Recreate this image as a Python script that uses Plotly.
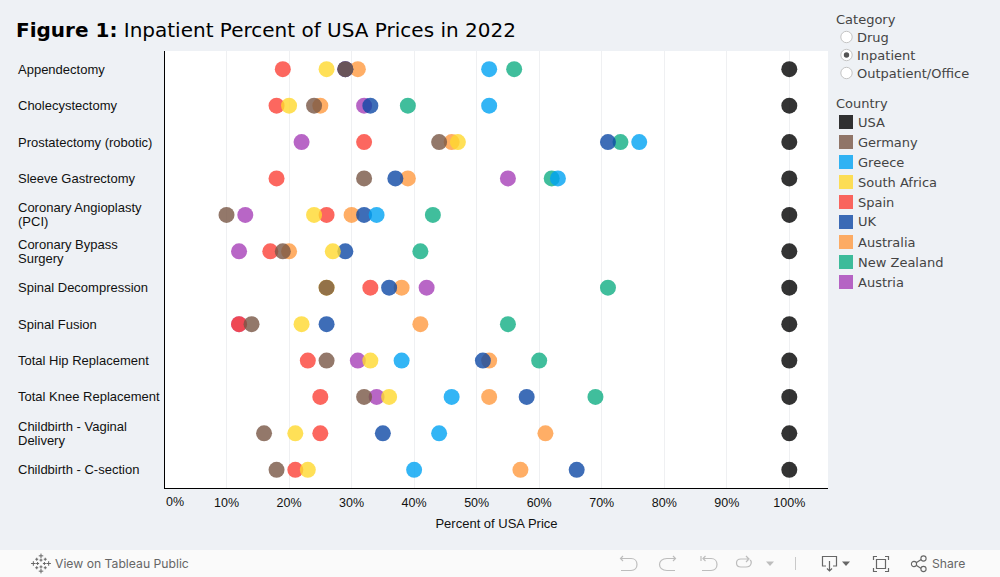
import plotly.graph_objects as go

W, H = 1000, 577
L, R, T, B = 165, 828, 51, 488
X0_PX, X_SCALE = 164.0, 6.253  # pixel of 0% and pixels per percent point

categories = ["Appendectomy", "Cholecystectomy", "Prostatectomy (robotic)", "Sleeve Gastrectomy",
              "Coronary Angioplasty (PCI)", "Coronary Bypass Surgery", "Spinal Decompression",
              "Spinal Fusion", "Total Hip Replacement", "Total Knee Replacement",
              "Childbirth - Vaginal Delivery", "Childbirth - C-section"]
category_lines = [["Appendectomy"], ["Cholecystectomy"], ["Prostatectomy (robotic)"], ["Sleeve Gastrectomy"],
                  ["Coronary Angioplasty", "(PCI)"], ["Coronary Bypass", "Surgery"], ["Spinal Decompression"],
                  ["Spinal Fusion"], ["Total Hip Replacement"], ["Total Knee Replacement"],
                  ["Childbirth - Vaginal", "Delivery"], ["Childbirth - C-section"]]

usa = [100, 100, 100, 100, 100, 100, 100, 100, 100, 100, 100, 100]
germany = [29, 24, 44, 32, 10, 19, 26, 14, 26, 32, 16, 18]
greece = [52, 52, 76, 63, 34, None, None, None, 38, 46, 44, 40]
south_africa = [26, 20, 47, None, 24, 27, 26, 22, 33, 36, 21, 23]
spain = [19, 18, 32, 18, 26, 17, 33, 12, 23, 25, 25, 21]
uk = [29, 33, 71, 37, 32, 29, 36, 26, 51, 58, 35, 66]
australia = [31, 25, 46, 39, 30, 20, 38, 41, 52, 52, 61, 57]
new_zealand = [56, 39, 73, 62, 43, 41, 71, 55, 60, 69, None, None]
austria = [29, 32, 22, 55, 13, 12, 42, 12, 31, 34, None, None]

countries = ["USA", "Germany", "Greece", "South Africa", "Spain", "UK", "Australia", "New Zealand", "Austria"]
series = [usa, germany, greece, south_africa, spain, uk, australia, new_zealand, austria]
colors = ["#000000", "#785645", "#00a2f2", "#ffd82d", "#fb4137", "#0e49a5", "#ff9a40", "#10ae83", "#a640b8"]
x_ticks = [10, 20, 30, 40, 50, 60, 70, 80, 90, 100]
category_options = ["Drug", "Inpatient", "Outpatient/Office"]

BG = "#eef1f5"
TXT = "#333333"
LEG = "#444444"
OPAC = 0.8


def px(x):
    return (x - L) / (R - L)


def py(y):
    return (B - y) / (B - T)


def P(*pts):
    cmds = []
    for p in pts:
        if isinstance(p, str):
            cmds.append(p)
        else:
            cmds.append(f"{px(p[0]):.5f},{py(p[1]):.5f}")
    return " ".join(cmds)


shapes = []
ann = []


def rect(x0, y0, x1, y1, fill, line=None, lw=1, opacity=1):
    shapes.append(dict(type="rect", xref="paper", yref="paper", x0=px(x0), x1=px(x1), y0=py(y0), y1=py(y1),
                       fillcolor=fill, line=dict(color=line or fill, width=lw if line else 0), opacity=opacity,
                       layer="below"))


def circle(cx, cy, r, fill, line=None, lw=1):
    shapes.append(dict(type="circle", xref="paper", yref="paper", x0=px(cx - r), x1=px(cx + r),
                       y0=py(cy + r), y1=py(cy - r), fillcolor=fill,
                       line=dict(color=line or fill, width=lw if line else 0), layer="below"))


def path(d, color, lw=1.2, fill="rgba(0,0,0,0)"):
    shapes.append(dict(type="path", xref="paper", yref="paper", path=d, fillcolor=fill,
                       line=dict(color=color, width=lw if lw else 0), layer="below"))


def text(x, y, s, size=12, color=TXT, family="DejaVu Sans", anchor="left"):
    ann.append(dict(xref="paper", yref="paper", x=px(x), y=py(y), text=s, showarrow=False, xanchor=anchor,
                    yanchor="middle", font=dict(size=size, color=color, family=family), align="left",
                    borderpad=0, borderwidth=0))


# Footer bar
rect(0, 550, W, H, "#fafafa")

fig = go.Figure()
order = [8, 7, 6, 5, 4, 3, 2, 1, 0]
for i in order:
    fig.add_trace(go.Scatter(x=series[i], y=categories, mode="markers", name=countries[i], showlegend=False,
                             marker=dict(size=16, color=colors[i], opacity=OPAC, line=dict(width=0)),
                             cliponaxis=False))

# Title
text(15.5, 30, "<b>Figure 1:</b> Inpatient Percent of USA Prices in 2022", size=20, color="#000000")

# Row labels
for cat, lines in zip(categories, category_lines):
    n = len(lines)
    for j, ln in enumerate(lines):
        ann.append(dict(xref="paper", yref="y", x=px(17.5), y=cat, text=ln, showarrow=False, xanchor="left",
                        yanchor="middle", yshift=(n - 1) * 7 - 14 * j, borderpad=0, borderwidth=0,
                        font=dict(size=13, color="#111111", family="Liberation Sans")))

# 0% tick label shifted inside, as in the reference
text(175, 502, "0%", size=12.5, color="#111111", family="Liberation Sans", anchor="center")

# Category filter
text(836, 19, "Category", size=13, color=LEG)
for k, opt in enumerate(category_options):
    yy = 37 + 18 * k
    circle(846.5, yy, 5.7, "#ffffff", "#c4c4c4", 1)
    if opt == "Inpatient":
        circle(846.5, yy, 2.7, "#555555")
    text(857, yy + 0.5, opt, size=13, color=LEG)

# Country legend
text(836, 103.5, "Country", size=13, color=LEG)
for k, (c, col) in enumerate(zip(countries, colors)):
    yy = 122 + 20 * k
    rect(839, yy - 7, 853, yy + 7, col, opacity=OPAC)
    text(858, yy, c, size=13, color=LEG)

# Footer content
GR = "#666666"
DIS = "#bdbdbd"
for dx, dy, ln in [(0, -9, 3), (0, 9, 3), (-9, 0, 3), (9, 0, 3), (-5, -5, 2), (5, -5, 2), (-5, 5, 2), (5, 5, 2),
                   (0, -4, 2), (0, 4, 2), (-4, 0, 2), (4, 0, 2)]:
    cx, cy = 41 + dx * 0.85, 563.5 + dy * 0.85
    path(P("M", (cx - ln * .75, cy), "L", (cx + ln * .75, cy), "M", (cx, cy - ln * .75), "L", (cx, cy + ln * .75)), GR, 1)
text(55, 563.5, "View on Tableau Public", size=12.2, color=GR, family="Inter")

# undo
path(P("M", (623, 556), "L", (620.5, 558.5), "L", (623, 561), "M", (620.5, 558.5), "L", (631, 558.5),
       "C", (639, 558.5), (639, 570.5), (631, 570.5), "L", (621, 570.5)), DIS)
# redo
path(P("M", (673, 556), "L", (675.5, 558.5), "L", (673, 561), "M", (675.5, 558.5), "L", (667, 558.5),
       "C", (657, 558.5), (657, 570.5), (667, 570.5), "L", (675, 570.5)), DIS)
# revert
path(P("M", (701, 556), "L", (701, 561), "M", (705.5, 556), "L", (703, 558.5), "L", (705.5, 561), "M", (703, 558.5),
       "L", (711, 558.5), "C", (719, 558.5), (719, 570.5), (711, 570.5), "L", (702, 570.5)), DIS)
# refresh
path(P("M", (748, 559), "L", (741, 559), "C", (735, 559), (735, 567), (741, 567), "L", (746, 567),
       "C", (752, 567), (752, 561), (750, 560), "M", (746, 556), "L", (749, 559), "L", (746, 562)), DIS)
path(P("M", (766, 561.5), "L", (774, 561.5), "L", (770, 566), "Z"), DIS, 0, DIS)
path(P("M", (795.5, 557), "L", (795.5, 570)), "#c9c9c9", 1)
# download
path(P("M", (826, 566), "L", (822.5, 566), "L", (822.5, 556.5), "L", (836.5, 556.5), "L", (836.5, 566), "L", (833, 566),
       "M", (829.5, 561), "L", (829.5, 571), "M", (827, 568.5), "L", (829.5, 571), "L", (832, 568.5)), GR)
path(P("M", (842, 561.5), "L", (850, 561.5), "L", (846, 566), "Z"), GR, 0, GR)
# fullscreen
path(P("M", (873.5, 560), "L", (873.5, 556.5), "L", (877, 556.5), "M", (885, 556.5), "L", (888.5, 556.5), "L", (888.5, 560),
       "M", (888.5, 568), "L", (888.5, 571.5), "L", (885, 571.5), "M", (877, 571.5), "L", (873.5, 571.5), "L", (873.5, 568)), GR)
path(P("M", (876.5, 559.5), "L", (885.5, 559.5), "L", (885.5, 568.5), "L", (876.5, 568.5), "Z"), GR)
# share
path(P("M", (915, 563.5), "L", (922, 559), "M", (915, 564.5), "L", (922, 569)), GR)
circle(914, 564, 2.6, "#fafafa", GR, 1.1)
circle(923.5, 558.5, 2.6, "#fafafa", GR, 1.1)
circle(923.5, 569, 2.6, "#fafafa", GR, 1.1)
text(932, 563.5, "Share", size=12.2, color=GR, family="Inter")

fig.update_layout(
    width=W, height=H, autosize=False,
    margin=dict(l=L, r=W - R, t=T, b=H - B, pad=0),
    paper_bgcolor=BG, plot_bgcolor="#ffffff",
    shapes=shapes, annotations=ann, showlegend=False,
    xaxis=dict(range=[(L - X0_PX) / X_SCALE, (R - X0_PX) / X_SCALE], tickvals=x_ticks,
               ticktext=[f"{v}%" for v in x_ticks],
               showgrid=True, gridcolor="#eff0f2", gridwidth=1, zeroline=False, showline=True, linecolor="#000000",
               linewidth=1, ticks="outside", ticklen=3, tickcolor="rgba(0,0,0,0)",
               tickfont=dict(size=12.5, color="#111111", family="Liberation Sans"),
               title=dict(text="Percent of USA Price", standoff=9,
                          font=dict(size=13, color="#111111", family="Liberation Sans"))),
    yaxis=dict(type="category", categoryorder="array", categoryarray=categories, range=[11.5, -0.5],
               showticklabels=False, showgrid=False, zeroline=False, showline=True, linecolor="#000000",
               linewidth=1, ticks=""),
)

fig.write_html("out.html", config=dict(displayModeBar=False),
               post_script="document.documentElement.style.overflow='hidden';document.body.style.margin='0';")
